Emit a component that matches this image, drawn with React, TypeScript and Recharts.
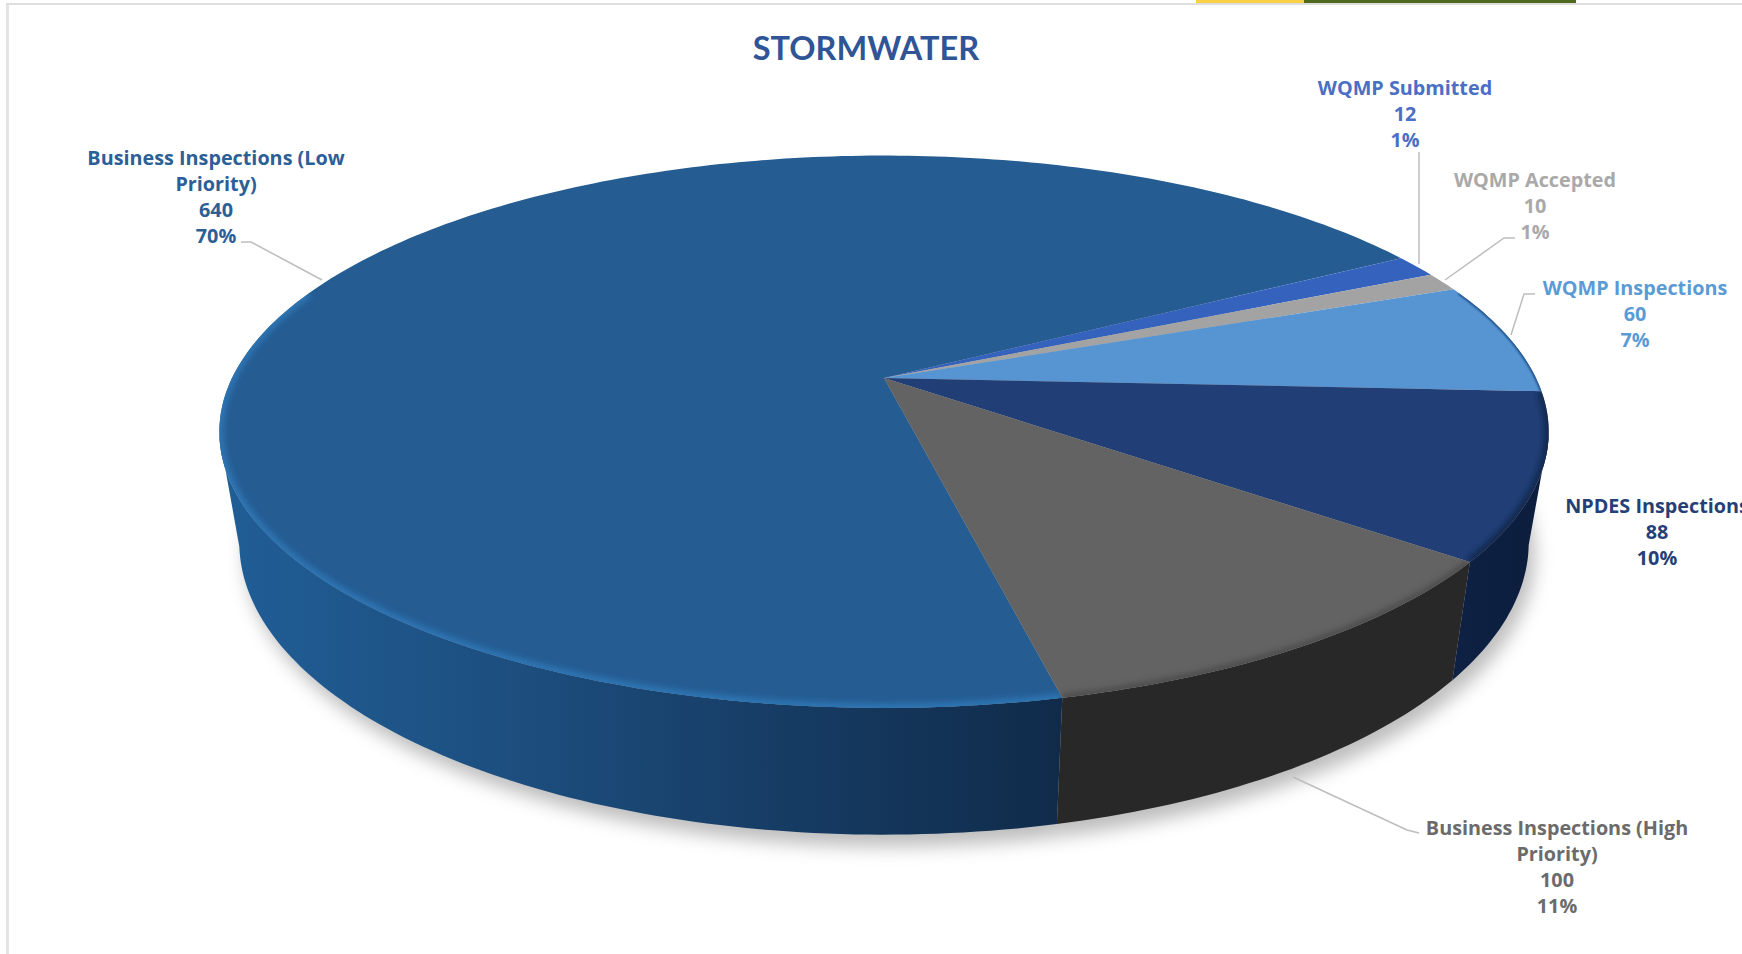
import React from "react";
import { PieChart, Pie } from "recharts";

// Stormwater activity counts, in the clockwise order of the slices.
const categories = [
  "Business Inspections (Low Priority)",
  "WQMP Submitted",
  "WQMP Accepted",
  "WQMP Inspections",
  "NPDES Inspections",
  "Business Inspections (High Priority)",
];
const counts = [640, 12, 10, 60, 88, 100];

const sliceColors = ["#255c92", "#3562bd", "#a3a3a3", "#5795d2", "#213f76", "#636363"];
const wallColors = [
  ["#205e96", "#1d4f80", "#163c64", "#102b4a"],
  ["#1f3c78", "#1f3c78"],
  ["#666666", "#666666"],
  ["#2f5f8f", "#2f5f8f"],
  ["#0e2144", "#0c1d3c"],
  ["#282828", "#282828"],
];
const rimColors = ["#2f78b8", "#3562bd", "#a3a3a3", "#1d4a80", "#0e2042", "#4a4a4a"];
const rimWidths = [8, 0, 0, 3, 7, 7];
const labelColors = ["#2b6097", "#4a6fc4", "#a9a9a9", "#5b9bd5", "#263f77", "#6b6b6b"];

// Label anchors: centre x and first-line y, then the leader polyline.
const labelCentres = [
  [216, 158],
  [1405, 88],
  [1535, 180],
  [1635, 288],
  [1657, 506],
  [1557, 828],
];
const leaderPaths = [
  "M241 242 L251 242 L322 280",
  "M1419 152 L1419 264",
  "M1515 238 L1504 238 L1445 280",
  "M1535 294 L1524 294 L1511 335",
  "",
  "M1419 833 L1407 830 L1293 777",
];

const CHART_W = 1742;
const CHART_H = 954;
const CENTRE_X = 884;
const CENTRE_Y = 378;
const RADIUS = 652;

// Perspective of the disc: depth foreshortening and near/far scaling.
const FLATTEN = 0.4075;
const TILT = 0.1946;
const BASE_SCALE_X = 0.97;
const BASE_SCALE_Y = 1.06;
const BASE_DROP = 107;

const rows = categories.map((name, i) => ({
  name,
  value: counts[i],
  fill: sliceColors[i],
  order: i,
}));
const total = counts.reduce((a, b) => a + b, 0);

type Pt = [number, number];

function project(cx: number, cy: number, r: number, deg: number, sx = 1, sy = 1, drop = 0): Pt {
  const t = (deg * Math.PI) / 180;
  const u = Math.cos(t);
  const v = Math.sin(t);
  const d = 1 + TILT * v;
  return [cx + (sx * r * u) / d, cy + drop - (sy * r * FLATTEN * v) / d];
}

const baseOf = (p: any, deg: number) =>
  project(p.cx, p.cy, p.outerRadius, deg, BASE_SCALE_X, BASE_SCALE_Y, BASE_DROP);

function sweep(from: number, to: number): number[] {
  const n = Math.max(2, Math.ceil(Math.abs(to - from)));
  const out: number[] = [];
  for (let i = 0; i <= n; i++) out.push(from + ((to - from) * i) / n);
  return out;
}

const toPath = (pts: Pt[], close = true) =>
  pts.map((p, i) => `${i ? "L" : "M"}${p[0].toFixed(1)} ${p[1].toFixed(1)}`).join(" ") + (close ? " Z" : "");

const isFront = (deg: number, limit: number) => Math.sin((deg * Math.PI) / 180) < limit;

function ShadowSlice(p: any) {
  const pts = sweep(p.startAngle, p.endAngle).map((a) => baseOf(p, a));
  const off: Pt[] = [[p.cx, p.cy + BASE_DROP], ...pts];
  return (
    <g>
      <defs>
        <filter id={`soft-${p.payload.order}`} x="-20%" y="-20%" width="140%" height="140%">
          <feGaussianBlur stdDeviation="9" />
        </filter>
      </defs>
      <path
        d={toPath(off)}
        transform="translate(6 12)"
        fill="#000"
        fillOpacity={0.26}
        filter={`url(#soft-${p.payload.order})`}
      />
    </g>
  );
}

function WallSlice(p: any) {
  // The wall is visible from one widest point of the rim to the other.
  const angles = sweep(p.startAngle, p.endAngle).filter((a) => isFront(a, -TILT));
  if (angles.length < 2) return <g />;
  const rim = angles.map((a) => project(p.cx, p.cy, p.outerRadius, a));
  const base = angles.map((a) => baseOf(p, a));
  const all = [...rim, ...base];
  const xs = all.map((q) => q[0]);
  const id = `wall-${p.payload.order}`;
  const stops: string[] = wallColors[p.payload.order];
  return (
    <g>
      <defs>
        <linearGradient id={id} gradientUnits="userSpaceOnUse" x1={Math.min(...xs)} x2={Math.max(...xs)} y1={0} y2={0}>
          {stops.map((c, i) => (
            <stop key={i} offset={i / (stops.length - 1)} stopColor={c} />
          ))}
        </linearGradient>
      </defs>
      <path d={toPath([...rim, ...base.reverse()])} fill={`url(#${id})`} />
    </g>
  );
}

function TopSlice(p: any) {
  const order = p.payload.order;
  const angles = sweep(p.startAngle, p.endAngle);
  const rim = angles.map((a) => project(p.cx, p.cy, p.outerRadius, a));
  const outline = toPath([[p.cx, p.cy], ...rim]);
  const edge = angles.filter((a) => isFront(a, 0.35)).map((a) => project(p.cx, p.cy, p.outerRadius, a));
  const width = rimWidths[order];
  return (
    <g>
      <defs>
        <clipPath id={`top-${order}`}>
          <path d={outline} />
        </clipPath>
        <filter id={`edge-${order}`} x="-10%" y="-10%" width="120%" height="120%">
          <feGaussianBlur stdDeviation={width > 4 ? 3 : 1} />
        </filter>
      </defs>
      <path d={outline} fill={p.fill} />
      {width > 0 && edge.length > 1 && (
        <g clipPath={`url(#top-${order})`}>
          <path
            d={toPath(edge, false)}
            fill="none"
            stroke={rimColors[order]}
            strokeWidth={width}
            filter={`url(#edge-${order})`}
          />
        </g>
      )}
    </g>
  );
}

function wrapName(name: string, maxChars = 26): string[] {
  const lines: string[] = [];
  let line = "";
  for (const word of name.split(" ")) {
    const next = line ? `${line} ${word}` : word;
    if (next.length > maxChars) {
      lines.push(line);
      line = word;
    } else {
      line = next;
    }
  }
  lines.push(line);
  return lines;
}

function SliceLabel(p: any) {
  const order = p.payload ? p.payload.order : p.index;
  const [x, y] = labelCentres[order];
  const lines = [
    ...wrapName(categories[order]),
    String(counts[order]),
    `${Math.round((counts[order] / total) * 100)}%`,
  ];
  const leader = leaderPaths[order];
  return (
    <g>
      {leader && <path d={leader} fill="none" stroke="#bdbdbd" strokeWidth={1.5} />}
      <text
        textAnchor="middle"
        fontFamily="'Open Sans', sans-serif"
        fontSize={19.8}
        fontWeight={700}
        fill={labelColors[order]}
      >
        {lines.map((ln, i) => (
          <tspan key={i} x={x} y={y + i * 26} dy="0.35em">
            {ln}
          </tspan>
        ))}
      </text>
    </g>
  );
}

const pieBase = {
  data: rows,
  dataKey: "value",
  nameKey: "name",
  cx: CENTRE_X,
  cy: CENTRE_Y,
  innerRadius: 0,
  outerRadius: RADIUS,
  startAngle: -77.2,
  endAngle: -437.2,
  stroke: "none",
  isAnimationActive: false,
  labelLine: false,
};

export default function App() {
  return (
    <div style={{ position: "absolute", left: 0, top: 0, width: CHART_W, height: CHART_H, background: "#fff" }}>
      <div style={{ position: "absolute", left: 6, top: 3, width: 3, height: CHART_H, background: "#e4e4e4" }} />
      <div style={{ position: "absolute", left: 6, top: 3, width: CHART_W - 6, height: 2, background: "#dedede" }} />
      <div style={{ position: "absolute", left: 1196, top: 0, width: 108, height: 3, background: "#f9cf45" }} />
      <div style={{ position: "absolute", left: 1304, top: 0, width: 272, height: 3, background: "#4f6a1f" }} />
      <div style={{ position: "absolute", left: 0, top: 0 }}>
        <PieChart width={CHART_W} height={CHART_H} margin={{ top: 0, right: 0, bottom: 0, left: 0 }}>
          <Pie {...pieBase} shape={ShadowSlice} />
          <Pie {...pieBase} shape={WallSlice} />
          <Pie {...pieBase} shape={TopSlice} label={SliceLabel} />
          <text
            x={866}
            y={52}
            textAnchor="middle"
            dominantBaseline="middle"
            fontFamily="Lato, sans-serif"
            fontWeight={700}
            fontSize={32.5}
            fill="#2f5597"
          >
            STORMWATER
          </text>
        </PieChart>
      </div>
    </div>
  );
}
